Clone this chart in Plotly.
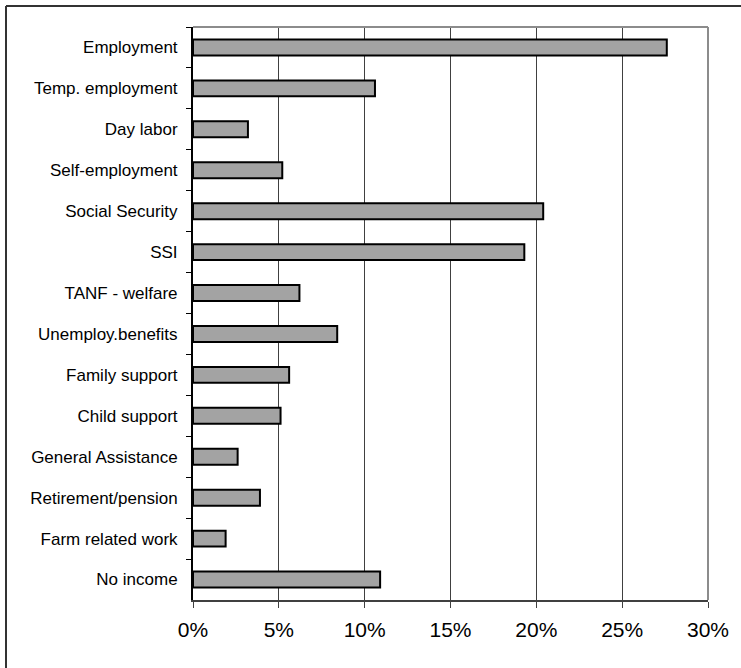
import plotly.graph_objects as go

categories = [
    "Employment", "Temp. employment", "Day labor", "Self-employment",
    "Social Security", "SSI", "TANF - welfare", "Unemploy.benefits",
    "Family support", "Child support", "General Assistance",
    "Retirement/pension", "Farm related work", "No income",
]
values = [27.6, 10.6, 3.2, 5.2, 20.4, 19.3, 6.2, 8.4, 5.6, 5.1, 2.6, 3.9, 1.9, 10.9]
x_ticks = [0, 5, 10, 15, 20, 25, 30]
x_tick_labels = [f"{v}%" for v in x_ticks]

fig = go.Figure()
fig.add_trace(go.Bar(
    x=values, y=categories, orientation="h", width=0.39,
    marker=dict(color="#a3a3a3", line=dict(color="#000000", width=2)),
    hoverinfo="x+y",
))

W, H = 741, 668
ml, mr, mt, mb = 193, 33, 27, 68
pw, ph = W - ml - mr, H - mt - mb
fx = (6 - ml) / pw
fy = (H - mb - 6) / ph

fig.update_layout(
    width=W, height=H,
    margin=dict(l=ml, r=mr, t=mt, b=mb),
    paper_bgcolor="white", plot_bgcolor="white",
    showlegend=False,
    font=dict(family="Liberation Sans, Arial, sans-serif", color="#000000"),
    xaxis=dict(
        range=[0, 30], tickmode="array", tickvals=x_ticks, ticktext=x_tick_labels,
        showgrid=True, gridcolor="#404040", gridwidth=1,
        showline=True, linecolor="#404040", linewidth=2,
        ticks="outside", ticklen=6, tickcolor="#404040", tickwidth=1,
        tickfont=dict(size=21), ticklabelstandoff=4, zeroline=False,
    ),
    yaxis=dict(
        autorange="reversed", type="category",
        showline=True, linecolor="#000000", linewidth=2,
        ticks="outside", ticklen=5, tickcolor="#000000", tickwidth=1,
        tickson="boundaries", showgrid=False,
        tickfont=dict(size=17), ticklabelstandoff=10,
    ),
    shapes=[
        dict(type="line", xref="paper", yref="paper", x0=0, x1=1, y0=1, y1=1,
             line=dict(color="#8c8c8c", width=2)),
        dict(type="line", xref="paper", yref="paper", x0=1, x1=1, y0=0, y1=1,
             line=dict(color="#8c8c8c", width=2)),
        dict(type="line", xref="paper", yref="paper", x0=fx, x1=fx, y0=-0.2, y1=fy,
             line=dict(color="#333333", width=2)),
        dict(type="line", xref="paper", yref="paper", x0=fx, x1=1.2, y0=fy, y1=fy,
             line=dict(color="#333333", width=2)),
    ],
)

fig.write_html("out.html")
